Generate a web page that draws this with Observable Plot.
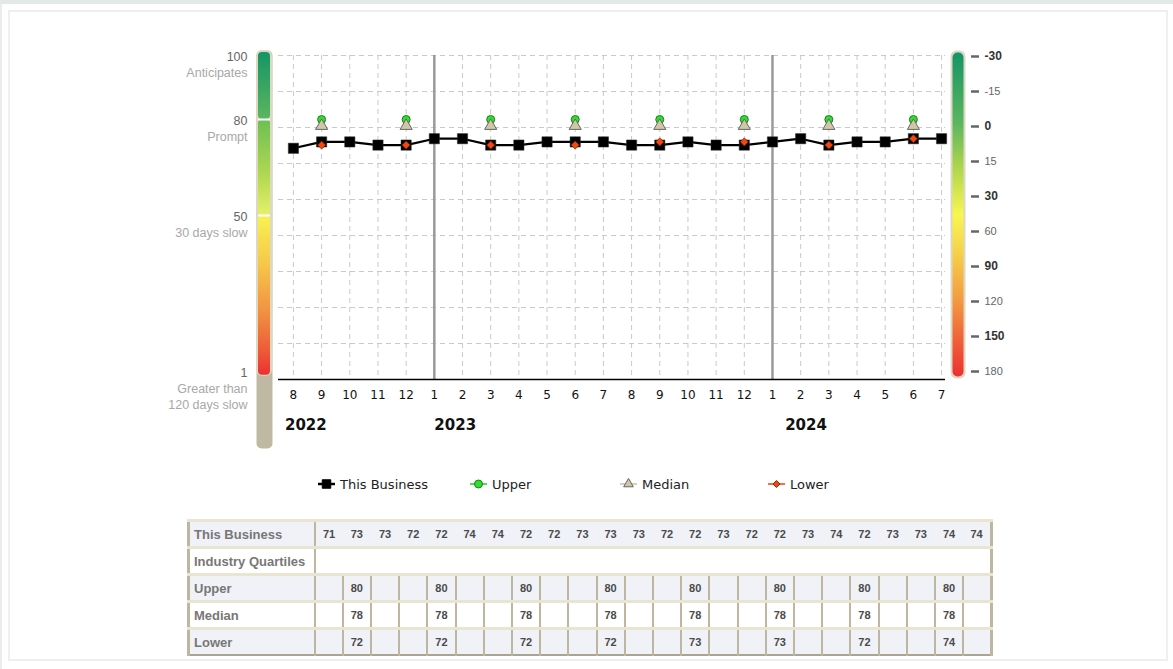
<!DOCTYPE html>
<html><head><meta charset="utf-8">
<script src="https://cdn.jsdelivr.net/npm/d3@7"></script>
<script src="https://cdn.jsdelivr.net/npm/@observablehq/plot@0.6"></script>
<style>
html,body{margin:0;padding:0;background:#fff}
body{width:1173px;height:669px;overflow:hidden;position:relative;font-family:"Liberation Sans",Arial,sans-serif}
#outer{position:absolute;left:0;top:0;width:1173px;height:669px;border-top:4px solid #e3e8e8;border-left:2px solid #e8ecec;box-sizing:border-box}
#panel{position:absolute;left:8px;top:10px;width:1160px;height:651px;border:2px solid #efefef;box-sizing:border-box;background:#fff}
.leg{position:absolute;top:476px;height:16px;display:flex;align-items:center;font-family:"DejaVu Sans",sans-serif;font-size:13px;color:#222}
.leg svg{margin-right:5px}
#tbl{position:absolute;left:187px;top:519px;width:803px;border-collapse:collapse;table-layout:fixed;font-family:"Liberation Sans",Arial,sans-serif;border-left:3px solid #bdb7a2;border-right:3px solid #bdb7a2;border-bottom:2px solid #aaa492}
#tbl td{height:24px;padding:0;border-top:3px solid #e9e5d3}
#tbl tr.shade td{background:#f0f2f7}
#tbl td.lab{font-weight:bold;font-size:13px;color:#777;padding-left:4px;border-right:2px solid #bdb7a2;white-space:nowrap;overflow:hidden}
#tbl td.val{text-align:center;font-weight:bold;font-size:11px;color:#4a4a4a}
#tbl td.qb{border-right:2px solid #bdb7a2}
</style>
</head>
<body>
<div id="outer"></div>
<div id="panel"></div>
<svg width="0" height="0" style="position:absolute">
  <defs>
    <linearGradient id="gA" x1="0" y1="0" x2="0" y2="1">
      <stop offset="0" stop-color="#159466"/><stop offset="1" stop-color="#5cb65f"/>
    </linearGradient>
    <linearGradient id="gB" x1="0" y1="0" x2="0" y2="1">
      <stop offset="0" stop-color="#6cbf55"/><stop offset="0.6" stop-color="#b2d952"/><stop offset="1" stop-color="#e6f06a"/>
    </linearGradient>
    <linearGradient id="gC" x1="0" y1="0" x2="0" y2="1">
      <stop offset="0" stop-color="#f8f252"/><stop offset="0.3" stop-color="#f6c84a"/><stop offset="0.6" stop-color="#f19342"/><stop offset="0.85" stop-color="#ee5a38"/><stop offset="1" stop-color="#ec3030"/>
    </linearGradient>
    <linearGradient id="gR" x1="0" y1="0" x2="0" y2="1">
      <stop offset="0" stop-color="#159466"/><stop offset="0.22" stop-color="#5cb65f"/><stop offset="0.34" stop-color="#a6d24f"/><stop offset="0.5" stop-color="#f8f650"/><stop offset="0.62" stop-color="#f6d04a"/><stop offset="0.76" stop-color="#f29c42"/><stop offset="0.9" stop-color="#ee5c38"/><stop offset="1" stop-color="#ec3030"/>
    </linearGradient>
  </defs>
</svg>
<script>
// ---------- data ----------
const months = ["8","9","10","11","12","1","2","3","4","5","6","7","8","9","10","11","12","1","2","3","4","5","6","7"];
const business = [71,73,73,72,72,74,74,72,72,73,73,73,72,72,73,72,72,73,74,72,73,73,74,74];
const quartileIdx = [1,4,7,10,13,16,19,22];
const upper = [80,80,80,80,80,80,80,80];
const median = [78,78,78,78,78,78,78,78];
const lower = [72,72,72,72,73,73,72,74];
const years = ["2022","2023","2024"];
const yearAt = [-0.3,5,17.45];
const yearBreaks = [5,17];
const scoreValues = [100,80,50,1];
const scoreNums = ["100","80","50","1"];
const scoreDescs = ["Anticipates","Prompt","30 days slow","Greater than\n120 days slow"];
const bandLo = [80,50,1];
const bandHi = [100,80,50];
const dayLabels = ["-30","-15","0","15","30","60","90","120","150","180"];
const boldDays = ["-30","0","30","90","150"];
const legendNames = ["This Business","Upper","Median","Lower"];
const quartileNames = ["Upper","Median","Lower"];

// ---------- layout ----------
const H = 445, YMIN = -1.25, YMAX = 100;
const grid = d3.range(9).map(i => YMAX - i * (YMAX - YMIN) / 9);
const bizData = business.map((v, i) => ({i, v}));
const qData = quartileIdx.map((x, k) => ({x, upper: upper[k], median: median[k], lower: lower[k]}));
const scoreData = scoreValues.map((v, k) => ({v, num: scoreNums[k], desc: scoreDescs[k]}));
const yearData = years.map((y, k) => ({label: y, at: yearAt[k]}));

const main = Plot.plot({
  width: 1173, height: H,
  marginLeft: 278, marginRight: 228, marginTop: 55, marginBottom: H - 379,
  x: {type: "linear", domain: [-0.53, 23.14]},
  y: {domain: [YMIN, YMAX], axis: null},
  style: {position: "absolute", left: "0px", top: "0px", overflow: "visible", fontFamily: "DejaVu Sans", background: "transparent"},
  marks: [
    Plot.ruleY(grid, {stroke: "#c9c9c9", strokeDasharray: "5,4"}),
    Plot.ruleX(d3.range(months.length), {stroke: "#c9c9c9", strokeDasharray: "5,4"}),
    Plot.ruleX(yearBreaks, {stroke: "#9a9a9a", strokeWidth: 2.5}),
    Plot.ruleY([YMIN], {stroke: "#000", strokeWidth: 1.5}),
    Plot.axisX({ticks: d3.range(months.length), tickFormat: i => months[i], tickSize: 0, tickPadding: 11, fontSize: 12, color: "#111", fontFamily: "DejaVu Sans"}),
    Plot.text(yearData, {x: "at", text: "label", frameAnchor: "bottom", dy: 50, textAnchor: "start", fontWeight: "bold", fontSize: 15, fill: "#111", fontFamily: "DejaVu Sans"}),
    Plot.text(scoreData, {y: "v", text: "num", frameAnchor: "left", dx: -31, dy: 1, textAnchor: "end", fill: "#666", fontSize: 12.5, fontFamily: "Liberation Sans"}),
    Plot.text(scoreData, {y: "v", text: "desc", frameAnchor: "left", dx: -31, dy: 10, lineAnchor: "top", lineHeight: 1.25, textAnchor: "end", fill: "#a8a8a8", fontSize: 12.5, fontFamily: "Liberation Sans"}),
    Plot.line(bizData, {x: "i", y: "v", stroke: "#000", strokeWidth: 2.2}),
    Plot.dot(bizData, {x: "i", y: "v", symbol: "square", r: 5.8, fill: "#000", stroke: "#333", strokeWidth: 0.5}),
    Plot.dot(qData, {x: "x", y: "upper", r: 4, fill: "#2ee02e", stroke: "#1f7a1f", strokeWidth: 1}),
    Plot.dot(qData, {x: "x", y: "median", symbol: "triangle", r: 4.5, fill: "#cfc7a5", stroke: "#666", strokeWidth: 1}),
    Plot.dot(qData, {x: "x", y: "lower", symbol: "diamond2", r: 3.6, fill: "#f04a10", stroke: "#902000", strokeWidth: 0.8})
  ]
});
document.body.appendChild(main);

// left colour bar (score bands)
const bandGrad = ["url(#gA)", "url(#gB)", "url(#gC)"];
const leftBar = Plot.plot({
  width: 36, height: 460,
  marginLeft: 10, marginRight: 10, marginTop: 50, marginBottom: 12,
  x: {domain: [0, 1], axis: null},
  y: {domain: [YMIN, YMAX], range: [379, 55], axis: null},
  style: {position: "absolute", left: "246px", top: "0px", overflow: "visible", background: "transparent"},
  marks: [
    Plot.frame({fill: "#bfb9a3", rx: 5}),
    Plot.rect([{lo: d3.min(bandLo), hi: d3.max(bandHi)}], {x1: 0, x2: 1, y1: "lo", y2: "hi", fill: "#ddd8c3", rx: 6, insetTop: -5, insetBottom: -4}),
    ...bandLo.map((lo, k) => Plot.rect([{lo, hi: bandHi[k]}], {x1: 0, x2: 1, y1: "lo", y2: "hi", fill: bandGrad[k], insetLeft: 2, insetRight: 2, insetTop: k === 0 ? -3 : 0, insetBottom: k === 2 ? -3 : 0, rx: 4})),
    Plot.ruleY(bandLo.slice(0, 2), {stroke: "#fff", strokeWidth: 2, insetLeft: 2, insetRight: 2})
  ]
});
document.body.appendChild(leftBar);

// right colour bar (days)
const rightBar = Plot.plot({
  width: 100, height: H,
  marginLeft: 10, marginRight: 75, marginTop: 50, marginBottom: H - 378,
  x: {domain: [0, 1], axis: null},
  y: {type: "point", domain: dayLabels, range: [55.5, 372], padding: 0, axis: null},
  style: {position: "absolute", left: "940px", top: "0px", overflow: "visible", background: "transparent"},
  marks: [
    Plot.frame({fill: "#ddd8c3", rx: 6}),
    Plot.frame({fill: "url(#gR)", inset: 2, rx: 5}),
    Plot.axisY({ticks: dayLabels, anchor: "right", dx: 5, tickSize: 8, tickFormat: () => "", stroke: "#666", strokeWidth: 2.5}),
    Plot.text(dayLabels.filter(d => boldDays.includes(d)), {y: d => d, text: d => d, frameAnchor: "right", dx: 19, textAnchor: "start", fontWeight: "bold", fontSize: 12, fill: "#333", fontFamily: "Liberation Sans"}),
    Plot.text(dayLabels.filter(d => !boldDays.includes(d)), {y: d => d, text: d => d, frameAnchor: "right", dx: 19, textAnchor: "start", fontSize: 11, fill: "#666", fontFamily: "Liberation Sans"})
  ]
});
document.body.appendChild(rightBar);

// legend
const legLeft = [318, 470, 620, 768];
const legStyle = [
  {line: "#000", sym: d3.symbolSquare, size: 72, fill: "#000", stroke: "#000"},
  {line: "#22cc22", sym: d3.symbolCircle, size: 50, fill: "#2ee02e", stroke: "#1f7a1f"},
  {line: "#c8c0a0", sym: d3.symbolTriangle, size: 40, fill: "#cfc7a5", stroke: "#666"},
  {line: "#e84010", sym: d3.symbolDiamond2, size: 30, fill: "#f04a10", stroke: "#902000"}
];
legendNames.forEach((name, k) => {
  const s = legStyle[k];
  const div = d3.select("body").append("div").attr("class", "leg").style("left", legLeft[k] + "px");
  const svg = div.append("svg").attr("width", 17).attr("height", 14);
  svg.append("line").attr("x1", 0).attr("x2", 17).attr("y1", 7).attr("y2", 7).attr("stroke", s.line).attr("stroke-width", k === 0 ? 2.5 : 1.5);
  svg.append("path").attr("d", d3.symbol(s.sym, s.size)()).attr("transform", "translate(8.5,7)").attr("fill", s.fill).attr("stroke", s.stroke).attr("stroke-width", 1);
  div.append("span").text(name);
});

// table
const table = d3.select("body").append("table").attr("id", "tbl");
const cg = table.append("colgroup");
cg.append("col").style("width", "126px");
months.forEach(() => cg.append("col").style("width", (677 / months.length) + "px"));
const r1 = table.append("tr").attr("class", "shade");
r1.append("td").attr("class", "lab").text("This Business");
business.forEach(v => r1.append("td").attr("class", "val").text(v));
const r2 = table.append("tr");
r2.append("td").attr("class", "lab").text("Industry Quartiles");
r2.append("td").attr("colspan", months.length);
[upper, median, lower].forEach((arr, k) => {
  const r = table.append("tr").attr("class", k % 2 === 0 ? "shade" : "");
  r.append("td").attr("class", "lab").text(quartileNames[k]);
  months.forEach((m, i) => {
    const j = quartileIdx.indexOf(i);
    r.append("td").attr("class", "val qb").text(j >= 0 ? arr[j] : "");
  });
});
</script>
</body></html>
